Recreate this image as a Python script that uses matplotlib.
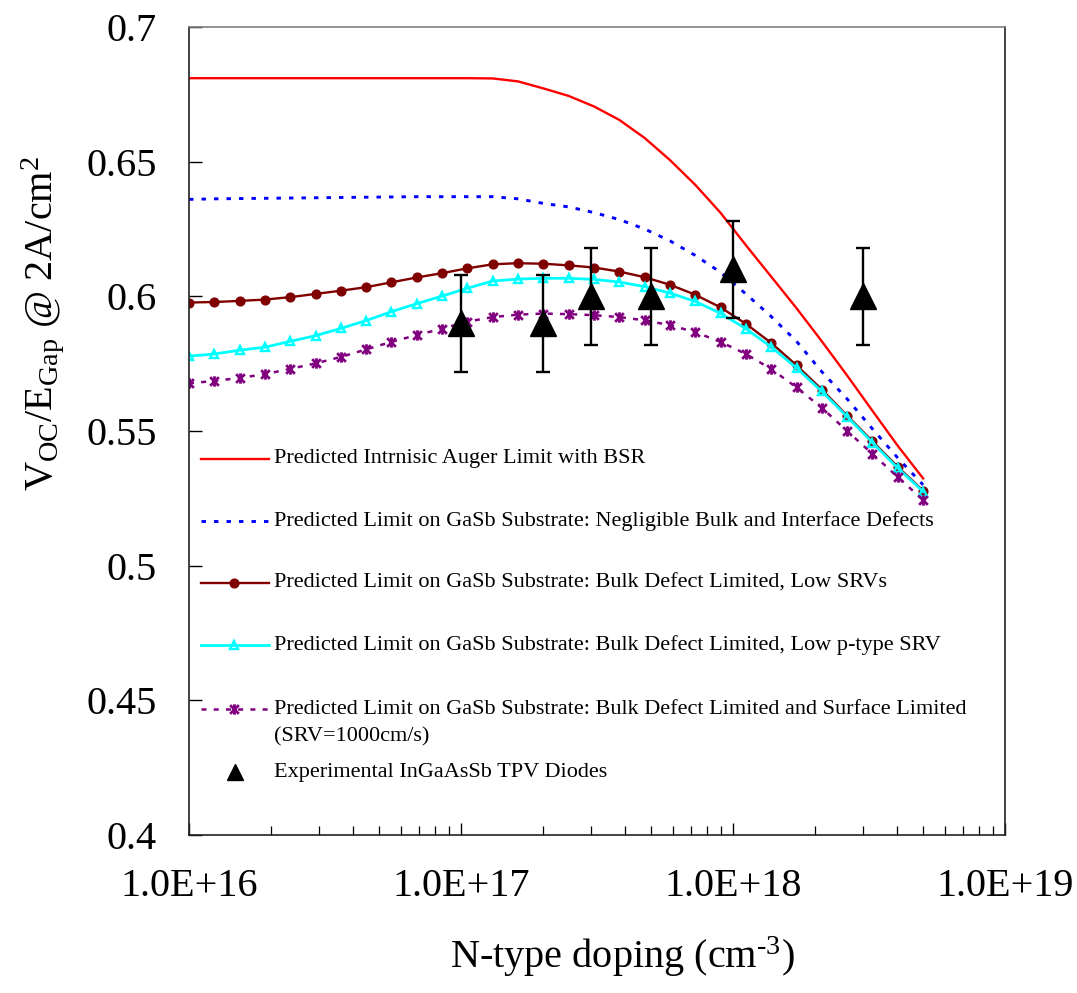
import matplotlib
matplotlib.use("Agg")
import matplotlib.pyplot as plt
from matplotlib.path import Path
from matplotlib.ticker import FixedLocator, LogLocator, NullFormatter

plt.rcParams['font.family'] = ['Liberation Serif', 'DejaVu Serif']
plt.rcParams['mathtext.fontset'] = 'custom'
plt.rcParams['mathtext.rm'] = 'Liberation Serif'
plt.rcParams['mathtext.it'] = 'Liberation Serif:italic'
plt.rcParams['lines.scale_dashes'] = False

# ---------------- data ----------------
doping = [1.00e16, 1.24e16, 1.535e16, 1.90e16, 2.36e16, 2.92e16, 3.62e16, 4.48e16,
          5.55e16, 6.88e16, 8.52e16, 1.056e17, 1.308e17, 1.621e17, 2.009e17, 2.489e17,
          3.083e17, 3.82e17, 4.733e17, 5.864e17, 7.265e17, 9.002e17, 1.115e18, 1.382e18,
          1.712e18, 2.121e18, 2.628e18, 3.256e18, 4.034e18, 5.00e18]

auger_bsr = [0.6810, 0.6810, 0.6810, 0.6810, 0.6810, 0.6810, 0.6810, 0.6810, 0.6810, 0.6810,
             0.6810, 0.6810, 0.6809, 0.6798, 0.6772, 0.6744, 0.6705, 0.6655, 0.6588, 0.6506,
             0.6414, 0.6310, 0.6190, 0.6073, 0.5956, 0.5833, 0.5706, 0.5575, 0.5445, 0.5324]

negligible_defects = [0.6360, 0.6362, 0.6363, 0.6364, 0.6365, 0.6366, 0.6367, 0.6368, 0.6369, 0.6370,
                      0.6370, 0.6370, 0.6370, 0.6362, 0.6345, 0.6332, 0.6311, 0.6285, 0.6250, 0.6206,
                      0.6152, 0.6089, 0.6009, 0.5925, 0.5833, 0.5720, 0.5619, 0.5508, 0.5400, 0.5300]

bulk_low_srvs = [0.5977, 0.5979, 0.5983, 0.5988, 0.5997, 0.6009, 0.6021, 0.6034, 0.6052, 0.6070,
                 0.6086, 0.6104, 0.6119, 0.6123, 0.6121, 0.6115, 0.6107, 0.6092, 0.6071, 0.6043,
                 0.6006, 0.5959, 0.5898, 0.5827, 0.5744, 0.5654, 0.5557, 0.5462, 0.5367, 0.5278]

bulk_low_ptype = [0.5778, 0.5786, 0.5800, 0.5811, 0.5833, 0.5854, 0.5881, 0.5910, 0.5943, 0.5973,
                  0.6001, 0.6030, 0.6057, 0.6064, 0.6067, 0.6067, 0.6063, 0.6053, 0.6036, 0.6012,
                  0.5981, 0.5937, 0.5880, 0.5812, 0.5734, 0.5647, 0.5553, 0.5457, 0.5362, 0.5275]

bulk_surface = [0.5677, 0.5686, 0.5697, 0.5711, 0.5731, 0.5751, 0.5775, 0.5803, 0.5831, 0.5856,
                0.5880, 0.5906, 0.5923, 0.5932, 0.5936, 0.5934, 0.5930, 0.5923, 0.5911, 0.5893,
                0.5867, 0.5831, 0.5786, 0.5730, 0.5662, 0.5586, 0.5500, 0.5415, 0.5329, 0.5244]

exp_doping = [1e17, 2e17, 3e17, 5e17, 1e18, 3e18]
exp_voc = [0.59, 0.59, 0.60, 0.60, 0.61, 0.60]
exp_err = [0.018, 0.018, 0.018, 0.018, 0.018, 0.018]

x_ticks = [1e16, 1e17, 1e18, 1e19]
x_tick_labels = ["1.0E+16", "1.0E+17", "1.0E+18", "1.0E+19"]
y_ticks = [0.4, 0.45, 0.5, 0.55, 0.6, 0.65, 0.7]
y_tick_labels = ["0.4", "0.45", "0.5", "0.55", "0.6", "0.65", "0.7"]

labels = ["Predicted Intrnisic Auger Limit with BSR",
          "Predicted Limit on GaSb Substrate: Negligible Bulk and Interface Defects",
          "Predicted Limit on GaSb Substrate: Bulk Defect Limited, Low SRVs",
          "Predicted Limit on GaSb Substrate: Bulk Defect Limited, Low p-type SRV",
          "Predicted Limit on GaSb Substrate: Bulk Defect Limited and Surface Limited\n(SRV=1000cm/s)",
          "Experimental InGaAsSb TPV Diodes"]

# ---------------- style ----------------
RED = '#FF0000'
BLUE = '#0000FF'
BROWN = '#800000'
CYAN = '#00FFFF'
PURPLE = '#800080'

star_marker = Path([(-1, -1), (1, 1), (-1, 1), (1, -1), (0, -1.2), (0, 1.2)],
                   [Path.MOVETO, Path.LINETO, Path.MOVETO, Path.LINETO, Path.MOVETO, Path.LINETO])

W, H = 1077, 993
fig = plt.figure(figsize=(W / 100, H / 100), dpi=100)
L, R, T, B = 189, 1005, 27, 835
ax = fig.add_axes([L / W, 1 - B / H, (R - L) / W, (B - T) / H])

styles = [
    dict(color=RED, lw=1.7, ls='-'),
    dict(color=BLUE, lw=2.1, dashes=(3.2, 5.8)),
    dict(color=BROWN, lw=1.7, ls='-', marker='o', ms=6.3, mfc=BROWN, mec=BROWN),
    dict(color=CYAN, lw=2.0, ls='-', marker='^', ms=5.8, mfc='none', mec=CYAN, mew=1.7),
    dict(color=PURPLE, lw=1.8, dashes=(3.6, 5.2), marker=star_marker, ms=7.5, mec=PURPLE, mew=2.0),
]
series = [auger_bsr, negligible_defects, bulk_low_srvs, bulk_low_ptype, bulk_surface]
for ys, st in zip(series, styles):
    ax.plot(doping, ys, **st)

ax.errorbar(exp_doping, exp_voc, yerr=exp_err, fmt='^', color='black', ms=18.5,
            elinewidth=1.7, capsize=4.8, capthick=1.7, zorder=5)

ax.set_xscale('log')
ax.set_xlim(1e16, 1e19)
ax.set_ylim(0.4, 0.7)
ax.xaxis.set_major_locator(FixedLocator(x_ticks))
ax.set_xticklabels(x_tick_labels)
ax.xaxis.set_minor_locator(LogLocator(base=10, subs=[2, 3, 4, 5, 6, 7, 8, 9]))
ax.xaxis.set_minor_formatter(NullFormatter())
ax.set_yticks(y_ticks)
ax.set_yticklabels(y_tick_labels)

ax.tick_params(axis='x', which='major', direction='in', length=8.6, width=1.0,
               labelsize=29, pad=24, top=False)
ax.tick_params(axis='x', which='minor', direction='in', length=6.3, width=0.9, top=False)
ax.tick_params(axis='y', which='major', direction='in', length=9.4, width=1.0,
               labelsize=29, pad=23, right=False)
for s in ['left', 'bottom', 'right']:
    ax.spines[s].set_color('#222222')
    ax.spines[s].set_linewidth(1.2)
ax.spines['top'].set_color('#808080')
ax.spines['top'].set_linewidth(1.2)

fig.text(43 / W, 1 - 323 / H, r"V$_{\mathrm{OC}}$/E$_{\mathrm{Gap}}$ @ 2A/cm$^{\mathrm{2}}$",
         rotation=90, ha='center', va='center', fontsize=29)
fig.text(622 / W, 1 - 957 / H, r"N-type doping (cm$^{\text{-3}}$)",
         ha='center', va='center', fontsize=29)

# ---------------- legend (manual, inside axes) ----------------
def ax_xy(px, py):
    return (px - L) / (R - L), (B - py) / (B - T)

h0, _ = ax_xy(201, 0)
h1, _ = ax_xy(269, 0)
hm, _ = ax_xy(234, 0)
tx, _ = ax_xy(274, 0)
rows = [459, 521, 583, 645, 709, 772]
line_gap = 28
for i, (lab, py) in enumerate(zip(labels, rows)):
    _, yy = ax_xy(0, py)
    if i < 5:
        st = dict(styles[i])
        mk = {k: st.pop(k) for k in ['marker', 'ms', 'mfc', 'mec', 'mew'] if k in st}
        ax.plot([h0, h1], [yy, yy], transform=ax.transAxes, clip_on=False, **st)
        if 'marker' in mk:
            ax.plot([hm], [yy], transform=ax.transAxes, ls='none', clip_on=False,
                    color=st['color'], **mk)
    else:
        ax.plot([hm + 0.001], [yy], transform=ax.transAxes, ls='none', marker='^', ms=11.5,
                color='black', clip_on=False)
    for j, part in enumerate(lab.split('\n')):
        _, yj = ax_xy(0, py + j * line_gap)
        ax.text(tx, yj, part, transform=ax.transAxes, ha='left', va='center', fontsize=16)

fig.savefig('out.png', dpi=100)
